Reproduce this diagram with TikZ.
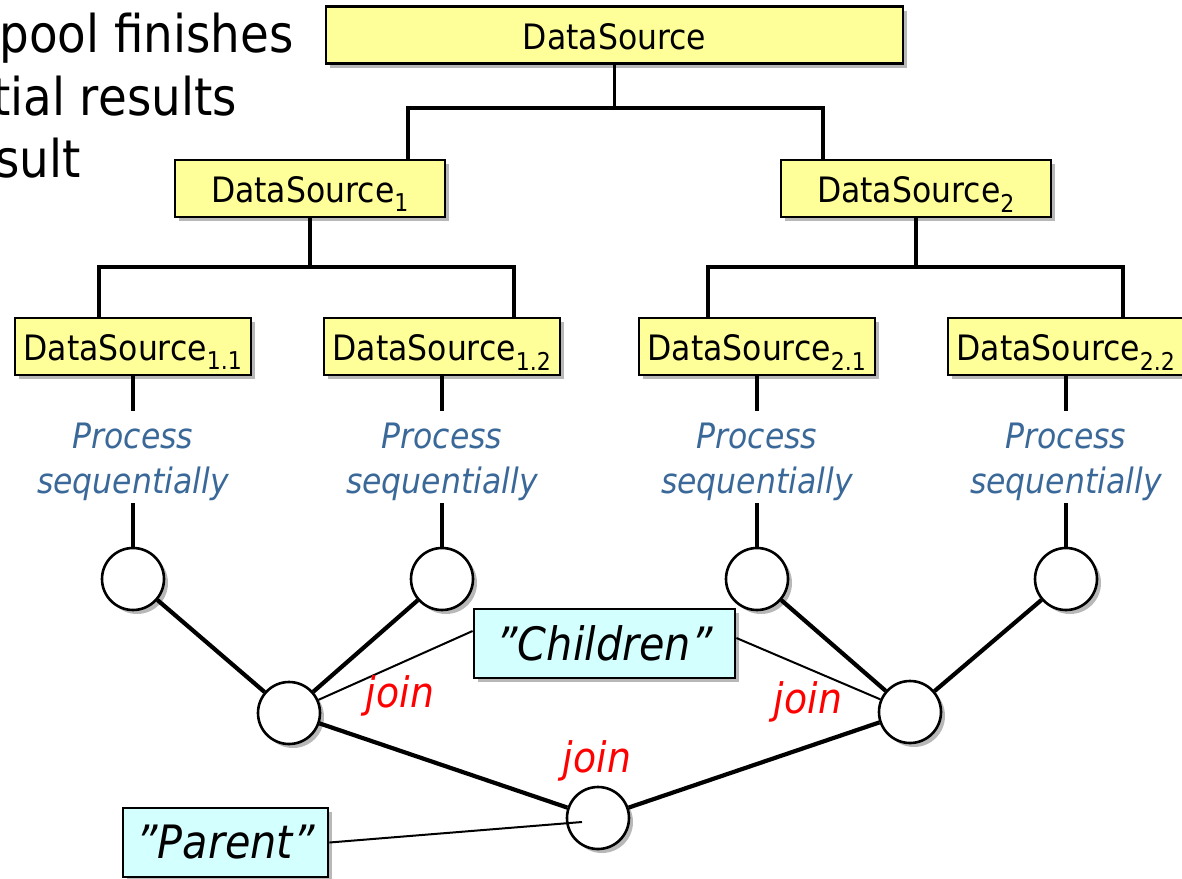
\documentclass[tikz,border=0pt]{standalone}
\usepackage{fontspec}
\setmainfont[FakeStretch=0.9]{DejaVu Sans}
\usetikzlibrary{shadows}
\definecolor{dsyellow}{RGB}{255,255,153}
\definecolor{lblue}{RGB}{212,255,255}
\definecolor{procblue}{RGB}{58,104,152}
\newcommand\fsz[2]{\fontsize{#1}{#2}\selectfont}
\begin{document}
\begin{tikzpicture}[x=1pt,y=-1pt,
  shd/.style={drop shadow={shadow xshift=4pt,shadow yshift=-4pt,fill=black,opacity=0.28}},
  dsbox/.style={draw,line width=2.8pt,fill=dsyellow,shd,inner sep=0pt,minimum height=57pt,
    text height=28pt,text depth=0pt,font=\fsz{35}{40}},
  lbox/.style={draw,line width=2.8pt,fill=lblue,shd,inner sep=0pt,minimum height=69pt,
    font=\fsz{46}{50}\itshape},
  circ/.style={circle,draw,line width=2.6pt,fill=white,minimum size=62pt,inner sep=0pt,shd},
  proc/.style={align=center,text=procblue,font=\fsz{35}{45}\itshape,inner sep=0pt},
  joinlbl/.style={anchor=base,text=red,font=\fsz{42}{42}\itshape,inner sep=0pt},
  bigtxt/.style={anchor=base east,inner sep=0pt,font=\fsz{52}{62}},
  tree/.style={line width=3.2pt},
  thickln/.style={line width=4.2pt},
  thinln/.style={line width=2pt}]
\useasboundingbox (0,0) rectangle (1182,878);

% cut-off slide text
\node[bigtxt] (t1) at (294,52) {pool finishes};
\node[bigtxt] (t2) at (237,115) {tial results};
\node[bigtxt] (t3) at (81,177) {sult};

% data source boxes
\node[dsbox,minimum width=577pt] (top) at (614.5,35) {DataSource};
\node[dsbox,minimum width=270pt] (ds1) at (310,188.5) {DataSource\textsubscript{1}};
\node[dsbox,minimum width=270pt] (ds2) at (916,188.5) {DataSource\textsubscript{2}};
\node[dsbox,minimum width=236pt] (ds11) at (133,346.5) {DataSource\textsubscript{1.1}};
\node[dsbox,minimum width=236pt] (ds12) at (442,346.5) {DataSource\textsubscript{1.2}};
\node[dsbox,minimum width=236pt] (ds21) at (757,346.5) {DataSource\textsubscript{2.1}};
\node[dsbox,minimum width=236pt] (ds22) at (1066,346.5) {DataSource\textsubscript{2.2}};

% tree connectors
\coordinate (b1) at (408,108);
\coordinate (b2) at (823,108);
\coordinate (d1) at (99,267);
\coordinate (d2) at (514,267);
\coordinate (e1) at (708,267);
\coordinate (e2) at (1123,267);
\draw[tree] (top.south) -- (top.south |- b1);
\draw[tree] (ds1.north -| b1) |- (b2) -- (ds2.north -| b2);
\draw[tree] (ds1.south) -- (ds1.south |- d1);
\draw[tree] (ds11.north -| d1) |- (d2) -- (ds12.north -| d2);
\draw[tree] (ds2.south) -- (ds2.south |- e1);
\draw[tree] (ds21.north -| e1) |- (e2) -- (ds22.north -| e2);

% process labels
\node[proc] (p11) at (133,462) {Process\\sequentially};
\node[proc] (p12) at (442,462) {Process\\sequentially};
\node[proc] (p21) at (757,462) {Process\\sequentially};
\node[proc] (p22) at (1066,462) {Process\\sequentially};

% circles
\node[circ] (c11) at (133,579) {};
\node[circ] (c12) at (442,579) {};
\node[circ] (c21) at (757,579) {};
\node[circ] (c22) at (1066,579) {};
\node[circ] (jL) at (289,713) {};
\node[circ] (jR) at (910,712) {};
\node[circ] (jB) at (598,818) {};

% vertical segments box -> text -> circle
\foreach \n in {11,12,21,22}{
  \draw[tree] (ds\n.south) -- ([yshift=12pt]p\n.north);
  \draw[tree] ([yshift=-2pt]p\n.south) -- (c\n.north);
}

% join lines
\draw[thickln] (c11) -- (jL);
\draw[thickln] (c12) -- (jL);
\draw[thickln] (c21) -- (jR);
\draw[thickln] (c22) -- (jR);
\draw[thickln] (jL) -- (jB);
\draw[thickln] (jB) -- (jR);

% labels boxes
\node[lbox,minimum width=261pt] (ch) at (604.5,643.5) {"Children”};
\node[lbox,minimum width=205pt] (par) at (225.5,842.5) {"Parent”};
\coordinate (pin) at (582,822);
\draw[thinln] ([yshift=12.5pt]ch.west) -- (jL);
\draw[thinln] ([yshift=5.5pt]ch.east) -- (jR);
\draw[thinln] (par.east) -- (pin);

% join labels
\node[joinlbl] (jl1) at (400,707) {join};
\node[joinlbl] (jl2) at (808,713) {join};
\node[joinlbl] (jl3) at (597,772) {join};
\end{tikzpicture}
\end{document}
